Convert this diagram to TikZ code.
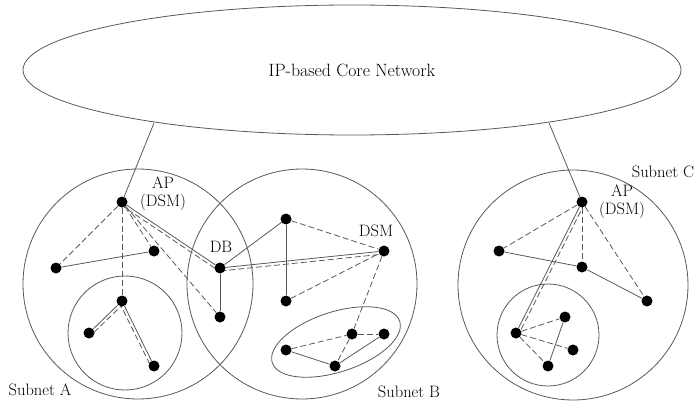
\documentclass[tikz,border=0pt]{standalone}
\usetikzlibrary{calc,shapes.geometric}
\pgfdeclarelayer{bg}
\pgfsetlayers{bg,main}
\newcommand\pairline[3]{%
  \draw[ln] (#1) -- (#2);
  \draw[dsh] ($(#1)!3pt!#3:(#2)$) -- ($(#2)!3pt!-#3:(#1)$);}
\begin{document}
\begin{tikzpicture}[x=1pt,y=-1pt,
  every node/.style={font=\fontsize{16.5}{18}\selectfont},
  dot/.style={circle,fill=black,inner sep=0pt,minimum size=11pt},
  ln/.style={draw=black!65,line width=0.8pt},
  dsh/.style={ln,dash pattern=on 6pt off 3pt},
  lbl/.style={inner sep=0pt,align=center}]
\useasboundingbox (0,0) rectangle (699,404);

% big shapes
\node[ellipse,ln,minimum width=658pt,minimum height=130pt,inner sep=0pt,font=\fontsize{17.8}{20}\selectfont] (core) at (352,70) {IP-based Core Network};
\node[circle,ln,minimum size=230pt,inner sep=0pt] (subA) at (138,284) {};
\node[circle,ln,minimum size=230pt,inner sep=0pt] (subB) at (302,284) {};
\node[circle,ln,minimum size=230pt,inner sep=0pt] (subC) at (573,285) {};
\node[circle,ln,minimum size=114pt,inner sep=0pt] (subAin) at (125,333) {};
\node[circle,ln,minimum size=102pt,inner sep=0pt] (subCin) at (548,335) {};
\node[ellipse,ln,minimum width=134pt,minimum height=60pt,inner sep=0pt,rotate=18] (subBin) at (336,342) {};

% dots
\node[dot] (apA) at (122,202) {};
\node[dot] (a1) at (154,251) {};
\node[dot] (a2) at (56,268) {};
\node[dot] (db) at (220,268) {};
\node[dot] (a3) at (220,317) {};
\node[dot] (ai1) at (122,301) {};
\node[dot] (ai2) at (89,333) {};
\node[dot] (ai3) at (154,366) {};
\node[dot] (b1) at (286,219) {};
\node[dot] (b2) at (286,301) {};
\node[dot] (dsm) at (384,251) {};
\node[dot] (bi1) at (286,350) {};
\node[dot] (bi2) at (335,366) {};
\node[dot] (bi3) at (352,334) {};
\node[dot] (bi4) at (384,334) {};
\node[dot] (apC) at (582,202) {};
\node[dot] (c1) at (499,251) {};
\node[dot] (c2) at (582,267) {};
\node[dot] (c3) at (647,301) {};
\node[dot] (ci1) at (516,333) {};
\node[dot] (ci2) at (565,317) {};
\node[dot] (ci3) at (573,350) {};
\node[dot] (ci4) at (548,366) {};

\coordinate (coreA) at (154,123);
\coordinate (coreC) at (549,123);

% labels
\node[lbl] (lapA) at (163,194) {AP\\(DSM)};
\node[lbl] (lapC) at (622,202) {AP\\(DSM)};
\node[lbl] (ldb) at (221,247) {DB};
\node[lbl] (ldsm) at (376,231) {DSM};
\node[lbl] (lsa) at (40,390) {Subnet A};
\node[lbl] (lsb) at (409,392) {Subnet B};
\node[lbl] (lsc) at (663,172) {Subnet C};

\begin{pgfonlayer}{bg}
\draw[ln] (coreA) -- (apA);
\draw[ln] (coreC) -- (apC);
% subnet A
\draw[dsh] (apA) -- (a1);
\draw[dsh] (apA) -- (a2);
\draw[dsh] (apA) -- (ai1);
\draw[dsh] (apA) -- (a3);
\draw[ln] (a2) -- (a1);
\draw[ln] (db) -- (a3);
\pairline{apA}{db}{-90}
\pairline{ai1}{ai2}{90}
\pairline{ai1}{ai3}{-90}
% subnet B
\draw[ln] (db) -- (b1);
\draw[ln] (b1) -- (b2);
\pairline{db}{dsm}{-90}
\draw[dsh] (b1) -- (dsm);
\draw[dsh] (b2) -- (dsm);
\draw[dsh] (dsm) -- (bi3);
\draw[dsh] (bi1) -- (bi3);
\draw[dsh] (bi3) -- (bi4);
\draw[dsh] (bi3) -- (bi2);
\draw[ln] (bi1) -- (bi2);
\draw[ln] (bi2) -- (bi4);
% subnet C
\draw[dsh] (apC) -- (c1);
\draw[dsh] (apC) -- (c2);
\draw[dsh] (apC) -- (c3);
\draw[ln] (c1) -- (c2);
\draw[ln] (c2) -- (c3);
\pairline{apC}{ci1}{90}
\draw[dsh] (ci1) -- (ci2);
\draw[dsh] (ci1) -- (ci3);
\draw[dsh] (ci1) -- (ci4);
\draw[ln] (ci2) -- (ci4);
\end{pgfonlayer}
\end{tikzpicture}
\end{document}
